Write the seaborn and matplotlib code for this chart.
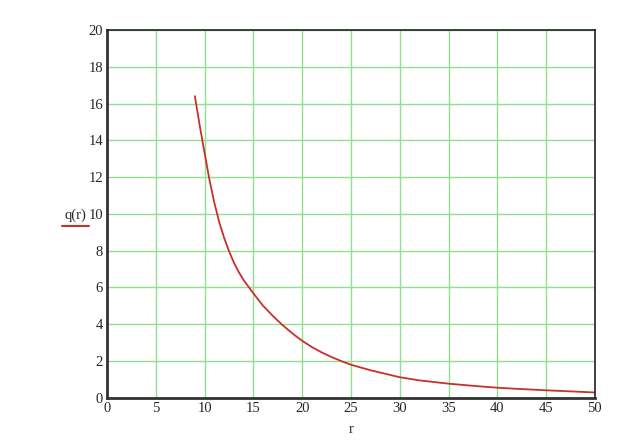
import numpy as np
import pandas as pd
import seaborn as sns
import matplotlib.pyplot as plt
from matplotlib.lines import Line2D

# values
r = [9, 9.5, 10, 10.5, 11, 11.5, 12, 12.5, 13, 13.5, 14, 15, 16, 17, 18,
     19, 20, 21, 22, 23, 24, 25, 27, 30, 32, 35, 38, 40, 42, 45, 48, 50]
q = [16.4, 14.8, 13.3, 11.85, 10.6, 9.55, 8.7, 7.98, 7.35, 6.84, 6.4, 5.68,
     5.0, 4.45, 3.95, 3.5, 3.1, 2.76, 2.47, 2.22, 2.0, 1.8, 1.5, 1.12,
     0.95, 0.77, 0.63, 0.55, 0.49, 0.41, 0.34, 0.29]
xticks = [0, 5, 10, 15, 20, 25, 30, 35, 40, 45, 50]
yticks = [0, 2, 4, 6, 8, 10, 12, 14, 16, 18, 20]

df = pd.DataFrame({"r": r, "q": q})

sns.set_style("white")
plt.rcParams['font.family'] = ['Liberation Serif', 'DejaVu Serif']

fig = plt.figure(figsize=(6.41, 4.47), dpi=100)
ax = fig.add_axes([0.167, 0.110, 0.761, 0.823])

sns.lineplot(data=df, x="r", y="q", color="#c8302a", linewidth=1.3, ax=ax)

ax.set_xlim(0, 50)
ax.set_ylim(0, 20)
ax.set_xticks(xticks)
ax.set_yticks(yticks)
ax.grid(True, color="#90e090", linewidth=1.0)
ax.tick_params(length=0, labelsize=10.5, pad=3)

for side in ["left", "bottom"]:
    ax.spines[side].set_linewidth(2.0)
    ax.spines[side].set_color("#333333")
for side in ["top", "right"]:
    ax.spines[side].set_linewidth(1.2)
    ax.spines[side].set_color("#222222")

ax.set_xlabel("r", fontsize=10.5, labelpad=6)
ax.set_ylabel("")
fig.text(0.118, 0.519, "q(r)", fontsize=10.5, ha="center", va="center")
fig.add_artist(Line2D([0.097, 0.139], [0.494, 0.494], color="#c8302a",
                      linewidth=1.5, transform=fig.transFigure))

fig.savefig("out.png", dpi=100)
